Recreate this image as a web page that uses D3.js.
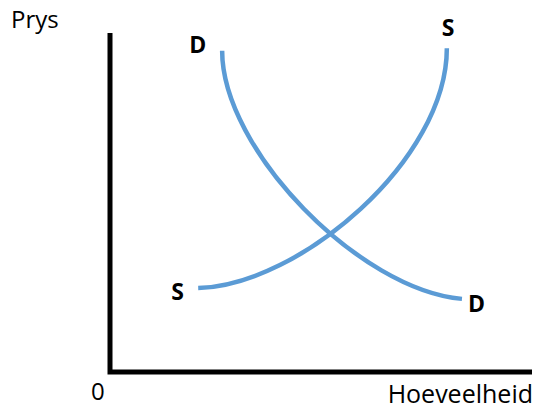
<!DOCTYPE html>
<html>
<head>
<meta charset="utf-8">
<script src="https://cdn.jsdelivr.net/npm/d3@7"></script>
<style>
  html, body { margin: 0; padding: 0; background: #fff; }
  svg { display: block; }
  text { font-family: "Open Sans", sans-serif; fill: #000; }
</style>
</head>
<body>
<script>
// Demand curve: cubic Bezier control points (quantity, price) in 0-100 units
const demandQ = [26.7, 26.7, 59.5, 83.8];
const demandP = [95.3, 65.9, 24.3, 21.7];
// Supply curve: cubic Bezier control points
const supplyQ = [21.0, 45.2, 80.2, 80.2];
const supplyP = [24.9, 25.8, 62.9, 96.1];
// Labels
const curveLabels = ["D", "S"];
const axisLabels = ["Prys", "Hoeveelheid", "0"];

const W = 538, H = 409;
const svg = d3.select("body").append("svg").attr("width", W).attr("height", H);

const x = d3.scaleLinear().domain([0, 100]).range([110, 530]);
const y = d3.scaleLinear().domain([0, 100]).range([372, 35]);

// axes
svg.append("path")
  .attr("d", `M${x(0)},${y(100) - 2} V${y(0)} H${x(100) + 2}`)
  .attr("fill", "none")
  .attr("stroke", "#000")
  .attr("stroke-width", 5)
  .attr("stroke-linejoin", "miter");

function bezier(qs, ps) {
  const p = d3.path();
  p.moveTo(x(qs[0]), y(ps[0]));
  p.bezierCurveTo(x(qs[1]), y(ps[1]), x(qs[2]), y(ps[2]), x(qs[3]), y(ps[3]));
  return p.toString();
}

[[demandQ, demandP], [supplyQ, supplyP]].forEach(([qs, ps]) => {
  svg.append("path")
    .attr("d", bezier(qs, ps))
    .attr("fill", "none")
    .attr("stroke", "#5B9BD5")
    .attr("stroke-width", 4.5);
});

// axis labels
svg.append("text").attr("x", 11).attr("y", 28).attr("font-size", 24).text(axisLabels[0]);
svg.append("text").attr("x", 533).attr("y", 403).attr("font-size", 25).attr("text-anchor", "end").text(axisLabels[1]);
svg.append("text").attr("x", 91).attr("y", 400).attr("font-size", 24).text(axisLabels[2]);

// curve labels
const lab = (t, px, py) => svg.append("text").attr("x", px).attr("y", py)
  .attr("font-size", 23).attr("font-weight", "bold").text(t);
const n = demandQ.length - 1;
lab(curveLabels[0], x(demandQ[0]) - 33, y(demandP[0]) + 2);
lab(curveLabels[0], x(demandQ[n]) + 6, y(demandP[n]) + 13);
lab(curveLabels[1], x(supplyQ[0]) - 27, y(supplyP[0]) + 12);
lab(curveLabels[1], x(supplyQ[n]) - 5, y(supplyP[n]) - 12);
</script>
</body>
</html>
